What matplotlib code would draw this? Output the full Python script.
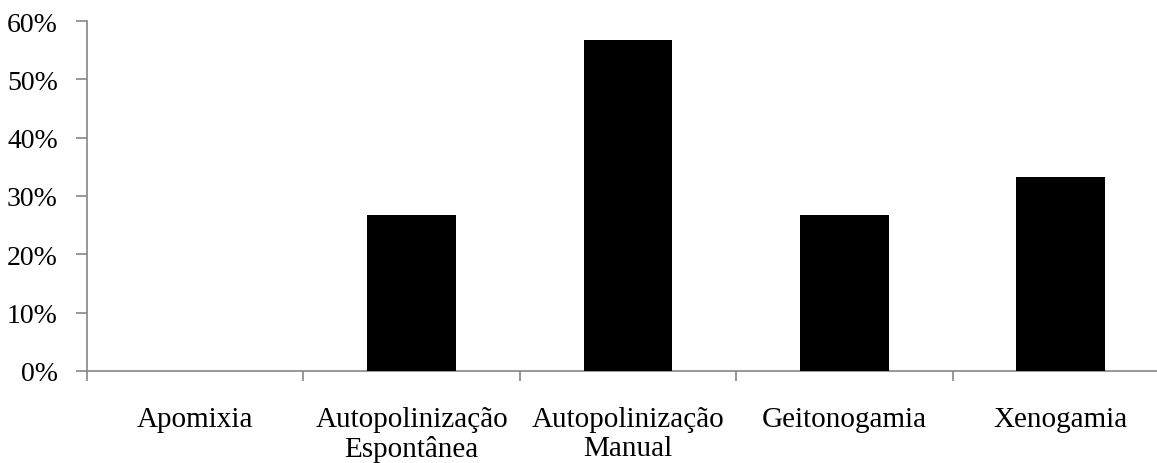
import matplotlib
matplotlib.use("Agg")
import matplotlib.pyplot as plt
from matplotlib.ticker import PercentFormatter

categorias = ["Apomixia", "Autopolinização\nEspontânea", "Autopolinização\nManual",
              "Geitonogamia", "Xenogamia"]
valores = [0.0, 26.67, 56.67, 26.67, 33.33]

plt.rcParams["font.family"] = ["Liberation Serif", "DejaVu Serif"]
eixo_cor = "#868686"

fig = plt.figure(figsize=(11.57, 4.64), dpi=100)
ax = fig.add_axes([87 / 1157, 1 - 372 / 464, 1082 / 1157, 350 / 464])

x = range(len(categorias))
ax.bar(x, valores, width=0.41, color="black", zorder=3)

ax.set_xlim(-0.5, len(categorias) - 0.5)
ax.set_ylim(0, 60)
ax.set_yticks(range(0, 61, 10))
ax.yaxis.set_major_formatter(PercentFormatter(decimals=0))

# ticks nas fronteiras das categorias, rótulos no centro
ax.set_xticks([i - 0.5 for i in range(len(categorias) + 1)])
ax.set_xticklabels([])
ax.set_xticks(list(x), minor=True)
ax.set_xticklabels(categorias, minor=True, fontsize=21, linespacing=1.15)
ax.tick_params(axis="x", which="minor", length=0, pad=25)
ax.tick_params(axis="x", which="major", length=7, width=1.2, color=eixo_cor)
ax.tick_params(axis="y", length=8, width=1.2, color=eixo_cor, labelsize=20, pad=13)

for lado in ["top", "right"]:
    ax.spines[lado].set_visible(False)
for lado in ["left", "bottom"]:
    ax.spines[lado].set_color(eixo_cor)
    ax.spines[lado].set_linewidth(1.2)

fig.savefig("out.png", dpi=100)
